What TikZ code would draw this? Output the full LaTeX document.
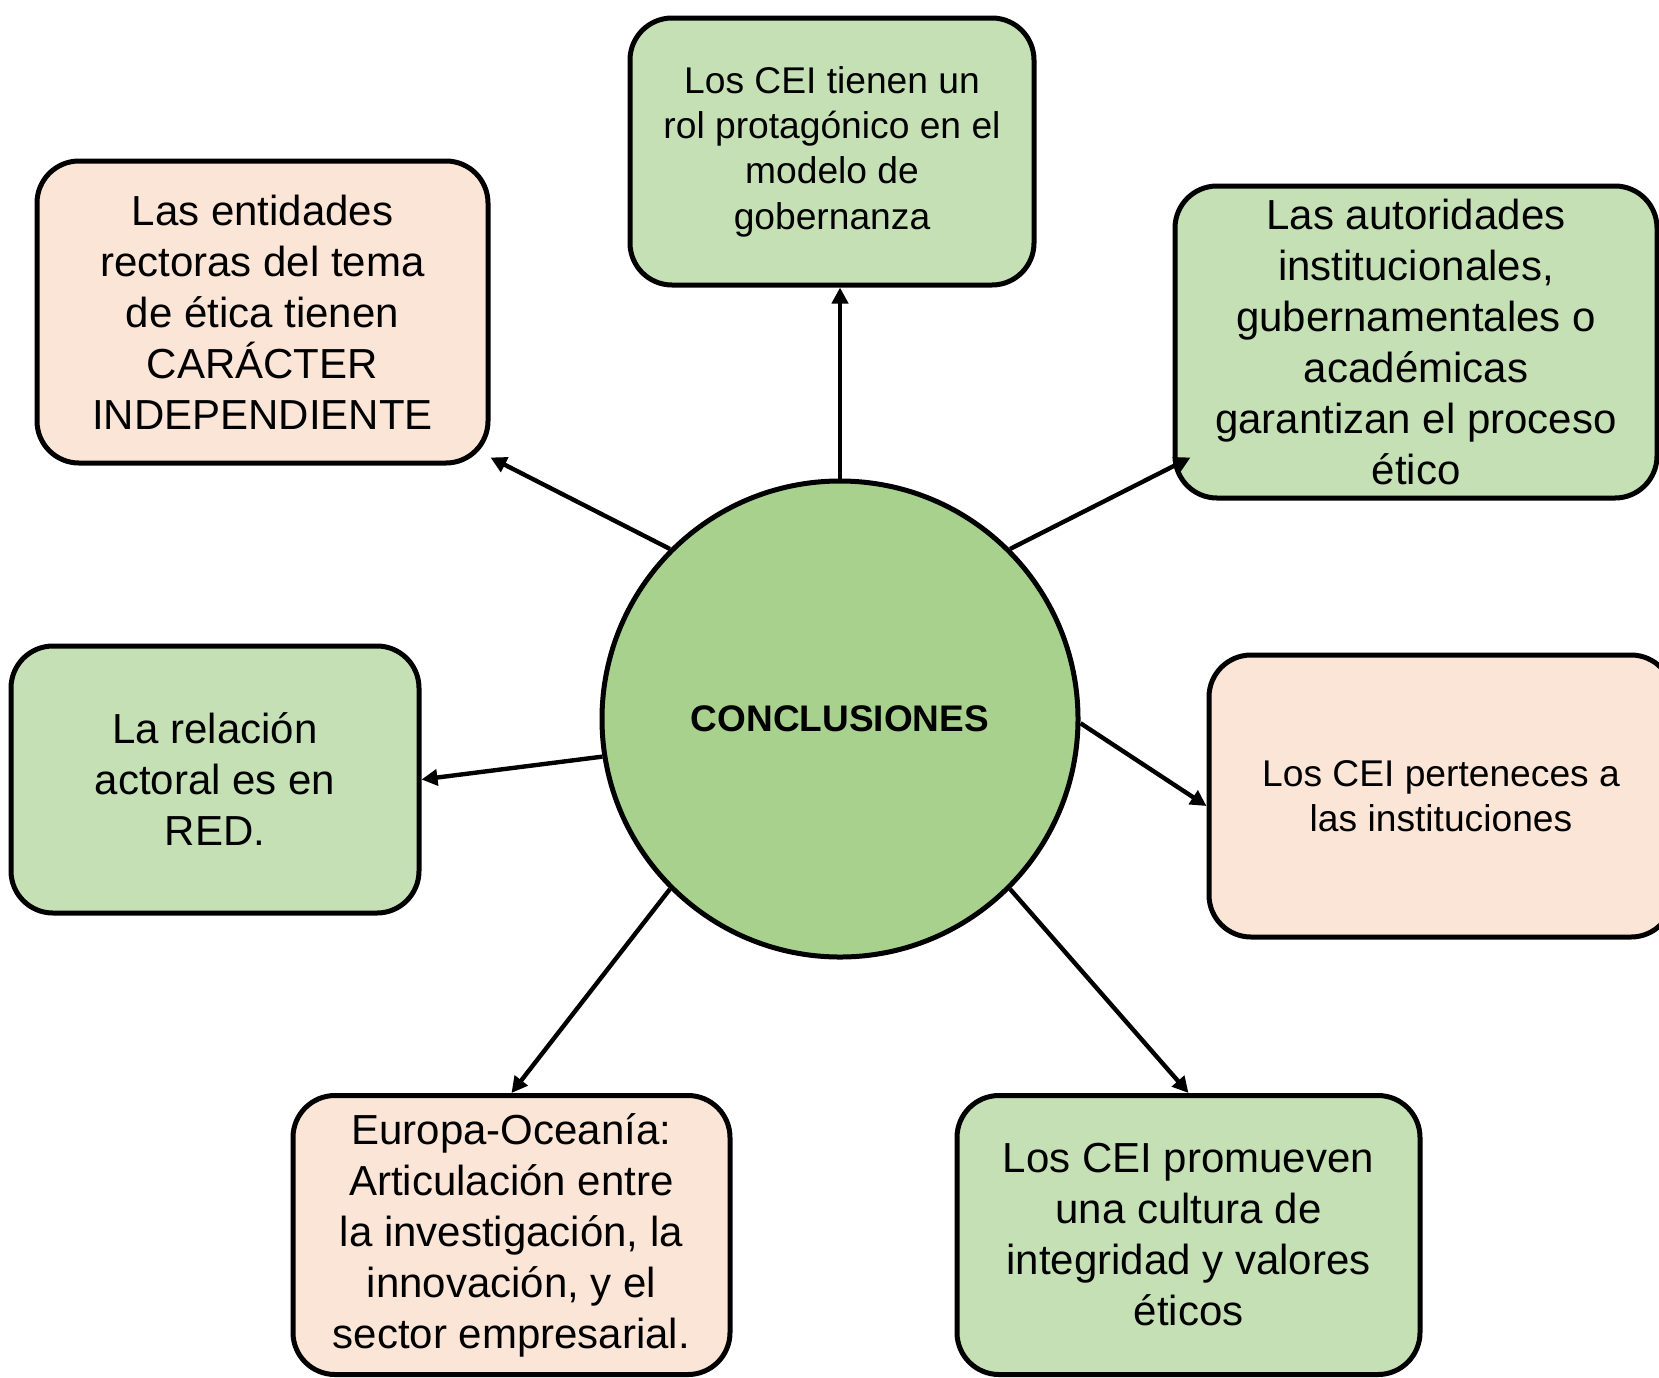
\documentclass[tikz,border=0pt]{standalone}
\usepackage{fontspec}
\setmainfont{Liberation Sans}
\usepackage{tikz}
\usetikzlibrary{arrows.meta}
\usepackage{xcolor}
\definecolor{boxgreen}{HTML}{C5E0B4}
\definecolor{boxpeach}{HTML}{FBE5D6}
\definecolor{hubgreen}{HTML}{A9D18E}

\begin{document}
\begin{tikzpicture}[
  x=0.5pt, y=-0.5pt,
  concbox/.style={rectangle, draw=black, line width=2.5pt, rounded corners=21pt, align=center, inner sep=0pt},
  small/.style={font=\fontsize{18.6}{22.7}\selectfont},
  large/.style={font=\fontsize{21}{25.5}\selectfont},
  green/.style={concbox, fill=boxgreen},
  peach/.style={concbox, fill=boxpeach},
  hub/.style={circle, draw=black, line width=2.5pt, fill=hubgreen, minimum size=238pt, inner sep=0pt, font=\fontsize{18.5}{22}\selectfont\bfseries},
  arr/.style={-{Triangle[length=8pt,width=8pt]}, line width=2.2pt}
]
\useasboundingbox (0,0) rectangle (1659,1377);
\node[hub] (c) at (840,719) {CONCLUSIONES};
\node[green, small, minimum width=202pt, minimum height=133.5pt] (n1) at (832,151.5)
  {Los CEI tienen un\\rol protagónico en el\\modelo de\\gobernanza};
\node[peach, large, minimum width=225.5pt, minimum height=151pt] (n2) at (262.5,312)
  {Las entidades\\rectoras del tema\\de ética tienen\\CARÁCTER\\INDEPENDIENTE};
\node[green, large, minimum width=241pt, minimum height=156pt] (n3) at (1416,342)
  {Las autoridades\\institucionales,\\gubernamentales o\\académicas\\garantizan el proceso\\ético};
\node[green, large, minimum width=204pt, minimum height=133.5pt] (n4) at (215,779.5)
  {La relación\\actoral es en\\RED.};
\node[peach, small, minimum width=232pt, minimum height=141pt] (n5) at (1441,796)
  {Los CEI perteneces a\\las instituciones};
\node[peach, large, minimum width=218.5pt, minimum height=139.5pt] (n6) at (511.5,1235)
  {Europa-Oceanía:\\Articulación entre\\la investigación, la\\innovación, y el\\sector empresarial.};
\node[green, large, minimum width=231.5pt, minimum height=139.5pt] (n7) at (1188.5,1235)
  {Los CEI promueven\\una cultura de\\integridad y valores\\éticos};
\draw[arr] (c.north) -- (c.north |- n1.south);
\draw[arr] (c.135) -- ([yshift=4pt]n2.south east);
\draw[arr] (c.45) -- ([shift={(9pt,21.5pt)}]n3.south west);
\draw[arr] (c.189) -- (n4.east);
\draw[arr] (c.-1) -- ([yshift=-5pt]n5.west);
\draw[arr] (c.225) -- (n6.north);
\draw[arr] (c.-45) -- (n7.north);
\end{tikzpicture}
\end{document}
